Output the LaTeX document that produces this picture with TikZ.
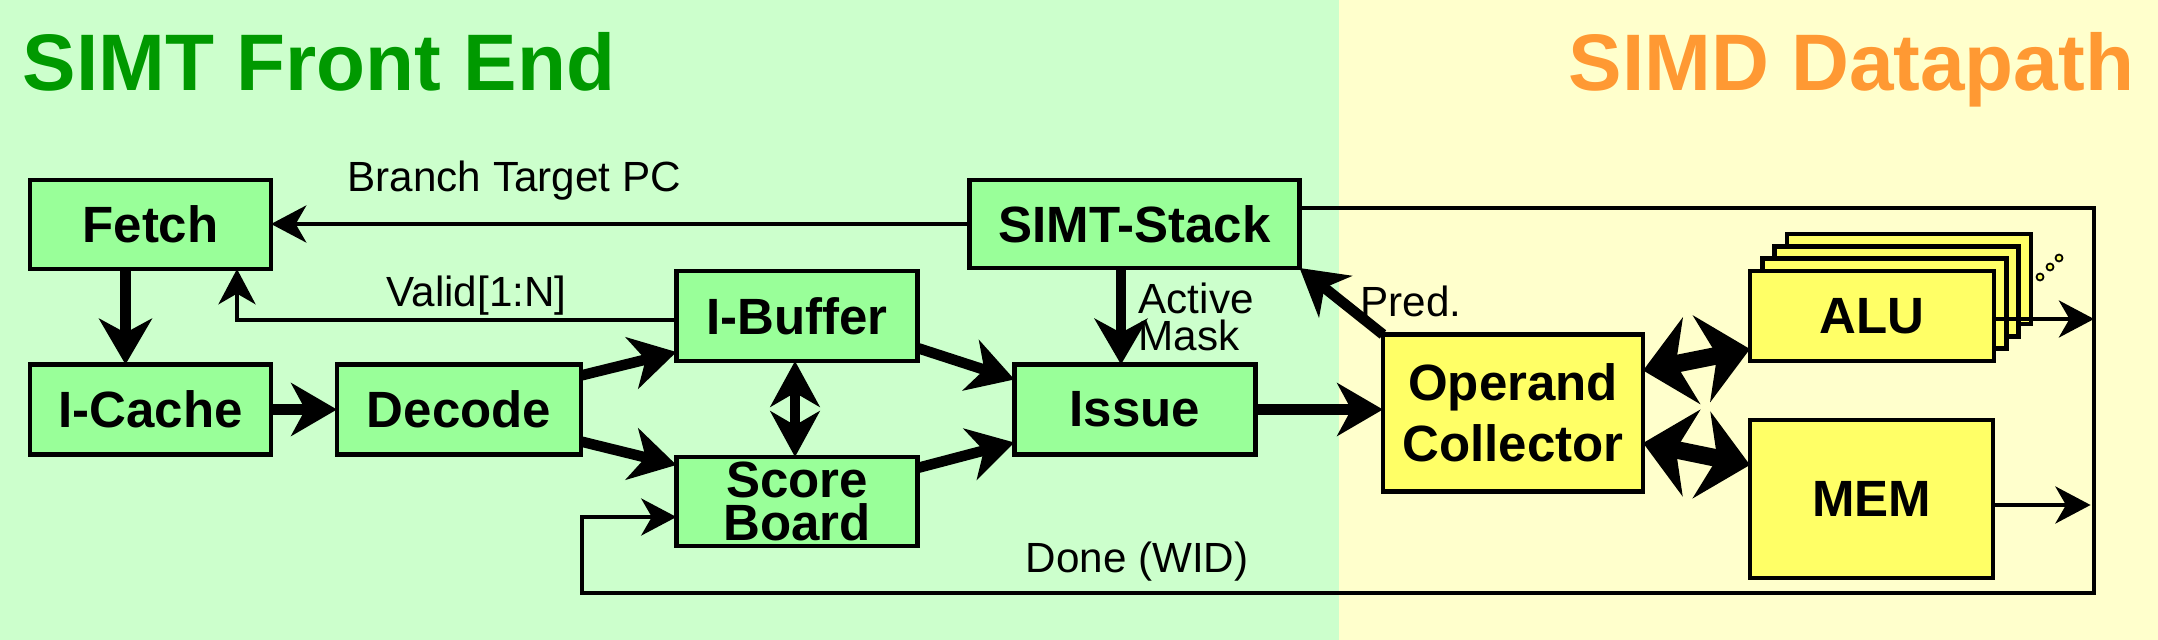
\documentclass[tikz,border=0pt]{standalone}
\usepackage{fontspec}
\setmainfont{Liberation Sans}
\usetikzlibrary{calc}
\usetikzlibrary{arrows.meta, positioning}

\definecolor{frontbg}{RGB}{204,255,204}
\definecolor{simdbg}{RGB}{255,255,204}
\definecolor{frontbox}{RGB}{153,255,153}
\definecolor{simdbox}{RGB}{255,255,102}
\definecolor{frontgreen}{RGB}{0,153,0}
\definecolor{simdorange}{RGB}{255,153,51}

\newcommand{\boxfont}{\bfseries\fontsize{14.5}{12}\selectfont}
\newcommand{\labelfont}{\fontsize{12}{10.5}\selectfont}

\tikzset{
  unitbox/.style={draw, line width=1.3pt, fill=frontbox, minimum width=2.41cm,
    minimum height=0.89cm, inner sep=0pt, outer sep=0pt, font=\boxfont, align=center},
  simdunit/.style={unitbox, fill=simdbox},
  titletext/.style={font=\bfseries\fontsize{22.8}{26}\selectfont, inner sep=0pt, anchor=base west},
  lbl/.style={font=\labelfont, inner sep=0pt, anchor=base west},
  bigarrow/.style={line width=3pt, -{Stealth[length=13pt,width=15pt,inset=4pt]}},
  bigdouble/.style={line width=3pt, {Stealth[length=13pt,width=14pt,inset=4pt]}-{Stealth[length=13pt,width=14pt,inset=4pt]}},
  fatdouble/.style={line width=5pt, {Stealth[length=14pt,width=25pt,inset=4.5pt]}-{Stealth[length=14pt,width=25pt,inset=4.5pt]}},
  thinline/.style={line width=1.3pt},
  thinarrow/.style={thinline, -{Stealth[length=10pt,width=10.5pt,inset=3pt]}},
}

\begin{document}
\begin{tikzpicture}[x=0.01cm, y=-0.01cm]

% --- Backgrounds and titles ---
\fill[frontbg] (0,0) rectangle (1339,640);
\fill[simdbg] (1339,0) rectangle (2158,640);
\node[titletext, text=frontgreen] (fronttitle) at (22,91) {SIMT Front End};
\node[titletext, anchor=base east, text=simdorange] (simdtitle) at (2135,91) {SIMD Datapath};

% --- SIMT Front End units ---
\node[unitbox] (fetch) at (150.5,224.5) {Fetch};
\node[unitbox, minimum height=0.9cm] (icache) at (150.5,409.5) {I-Cache};
\node[unitbox, minimum width=2.44cm, minimum height=0.9cm] (decode) at (459,409.5) {Decode};
\node[unitbox, minimum height=0.9cm] (ibuffer) at (797,316) {I-Buffer};
\node[unitbox, font=\bfseries\fontsize{14.5}{12.4}\selectfont] (scoreboard) at (797,501.5) {Score\\Board};
\node[unitbox, minimum height=0.9cm] (issue) at (1135,409.5) {Issue};
\node[unitbox, minimum width=3.3cm, minimum height=0.88cm] (simtstack) at (1134.5,224) {SIMT-Stack};

% --- SIMD Datapath units ---
\node[simdunit, minimum width=2.6cm, minimum height=1.57cm,
  font=\bfseries\fontsize{14.5}{17.4}\selectfont] (opcoll) at (1513,413) {Operand\\Collector};

% ALU lanes, stacked back to front
\coordinate (alupos) at (1872,316);
\foreach \k in {3,2,1}
{
    \node[simdunit, minimum width=2.44cm, minimum height=0.9cm] (alu\k) at ($(alupos)+(12.3*\k,-12.3*\k)$) {};
}
\node[simdunit, minimum width=2.44cm, minimum height=0.9cm] (alu) at (alupos) {ALU};
\foreach \p in {(2040,277),(2050,267),(2059,258)}
{
    \draw[line width=0.5pt, fill=simdbox] \p circle[radius=0.035cm];
}

\node[simdunit, minimum width=2.43cm, minimum height=1.58cm] (mem) at (1871.5,499) {MEM};

% --- Thick datapath arrows ---
\draw[bigarrow] ($(fetch.south)+(-25,0)$) -- ($(icache.north)+(-25,0)$);
\draw[bigarrow] (icache.east) -- (decode.west);
\draw[bigarrow] ($(decode.north east)+(0,11)$) -- ($(ibuffer.south west)+(0,-9)$);
\draw[bigarrow] ($(decode.south east)+(0,-13)$) -- ($(scoreboard.north west)+(0,8)$);
\draw[bigdouble] ($(ibuffer.south)+(-2,0)$) -- ($(scoreboard.north)+(-2,0)$);
\draw[bigarrow] ($(ibuffer.south east)+(0,-13)$) -- ($(issue.north west)+(0,15)$);
\draw[bigarrow] ($(scoreboard.north east)+(0,11)$) -- ($(issue.south west)+(0,-12)$);
\draw[bigarrow] ($(simtstack.south)+(-13.5,0)$) -- ($(issue.north)+(-14,0)$);
\draw[bigarrow] (issue.east) -- (issue.east -| opcoll.west);
\draw[bigarrow] (opcoll.north west) -- (simtstack.south east);
\draw[fatdouble] ($(opcoll.north east)+(0,36)$) -- ($(alu.south west)+(0,-12)$);
\draw[fatdouble] ($(opcoll.east)+(0,30)$) -- ($(mem.north west)+(0,45)$);

% --- Thin control paths ---
\coordinate (busNE) at (2094,208);
\coordinate (busSE) at (2094,593);
\coordinate (busSW) at (582,593);
\coordinate (doneturn) at (582,517);
\coordinate (validtap) at ($(fetch.south)+(86.5,0)$);

\draw[thinarrow] (simtstack.west) -- (simtstack.west -| fetch.east);
\draw[thinarrow] ($(ibuffer.west)+(0,4)$) -| (validtap);
\draw[thinarrow] ($(simtstack.east)+(0,-16)$) -- (busNE) -- (busSE) -- (busSW) -- (doneturn) -- (doneturn -| scoreboard.west);
\draw[thinarrow] ($(alu.east)+(0,3)$) -- ($(alu.east)+(100,3)$);
\draw[thinarrow] ($(mem.east)+(0,6)$) -- ($(mem.east)+(97.5,6)$);

% Labels on the connectors
\node[lbl] (branchlbl) at (347,192) {Branch Target PC};
\node[lbl] (validlbl) at (386,307) {Valid[1:N]};
\node[lbl, anchor=north west, align=left] (masklbl) at (1138,282) {Active\\Mask};
\node[lbl] (predlbl) at (1360,317) {Pred.};
\node[lbl] (donelbl) at (1025,572) {Done (WID)};

\end{tikzpicture}
\end{document}
